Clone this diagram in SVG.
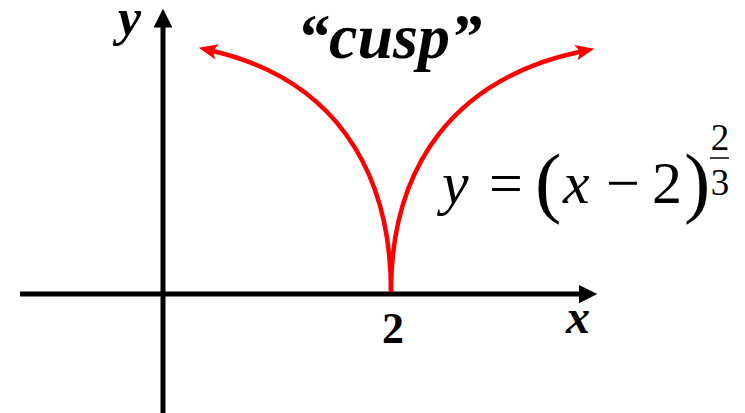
<svg xmlns="http://www.w3.org/2000/svg" width="745" height="413" viewBox="0 0 745 413">
  <defs>
    <style>
      .axis { stroke: #000; stroke-width: 5; fill: none; }
      .curve { stroke: #ff0000; stroke-width: 4.5; fill: none; }
      text { font-family: 'Liberation Serif', 'Times New Roman', serif; fill: #000; }
      .bi { font-weight: bold; font-style: italic; }
      .b { font-weight: bold; }
      .it { font-style: italic; }
    </style>
    <marker id="blackHead" markerUnits="userSpaceOnUse" markerWidth="20" markerHeight="20" viewBox="0 -8 16 16" refX="2" refY="0" orient="auto">
      <path d="M0,-7.5 L15,0 L0,7.5 Z" fill="#000"/>
    </marker>
    <marker id="redHead" markerUnits="userSpaceOnUse" markerWidth="20" markerHeight="20" viewBox="0 -8 18 16" refX="5" refY="0" orient="auto">
      <path d="M0,-7 L17,0 L0,7 L4,0 Z" fill="#ff0000"/>
    </marker>
  </defs>
  <rect width="745" height="413" fill="#fff"/>

  <g id="axes">
    <line class="axis" x1="20" y1="294" x2="581" y2="294" marker-end="url(#blackHead)"/>
    <line class="axis" x1="163" y1="413" x2="163" y2="25" marker-end="url(#blackHead)"/>
  </g>

  <g id="curve">
    <path class="curve" d="M391,292 C391,165 330,78 211.7,50.7" marker-end="url(#redHead)"/>
    <path class="curve" d="M391,292 C391,165 455,78 581.3,51.5" marker-end="url(#redHead)"/>
  </g>

  <g id="labels">
    <text class="bi" x="118" y="35" font-size="52">y</text>
    <text class="bi" x="566" y="333" font-size="48">x</text>
    <text class="b" x="393" y="343" font-size="44" text-anchor="middle">2</text>
    <text class="bi" x="297" y="58" font-size="64">“cusp”</text>
  </g>

  <g id="equation">
    <text class="it" x="442" y="203" font-size="60">y</text>
    <text x="489" y="203" font-size="60">=</text>
    <text x="535" y="208" font-size="79">(</text>
    <text class="it" x="563" y="203" font-size="60">x</text>
    <text x="606" y="203" font-size="60">−</text>
    <text x="652" y="203" font-size="60">2</text>
    <text x="684" y="208" font-size="79">)</text>
    <text x="720" y="150" font-size="37" text-anchor="middle">2</text>
    <line x1="710" y1="158" x2="729" y2="158" stroke="#000" stroke-width="1.5"/>
    <text x="720" y="195" font-size="37" text-anchor="middle">3</text>
  </g>
</svg>
